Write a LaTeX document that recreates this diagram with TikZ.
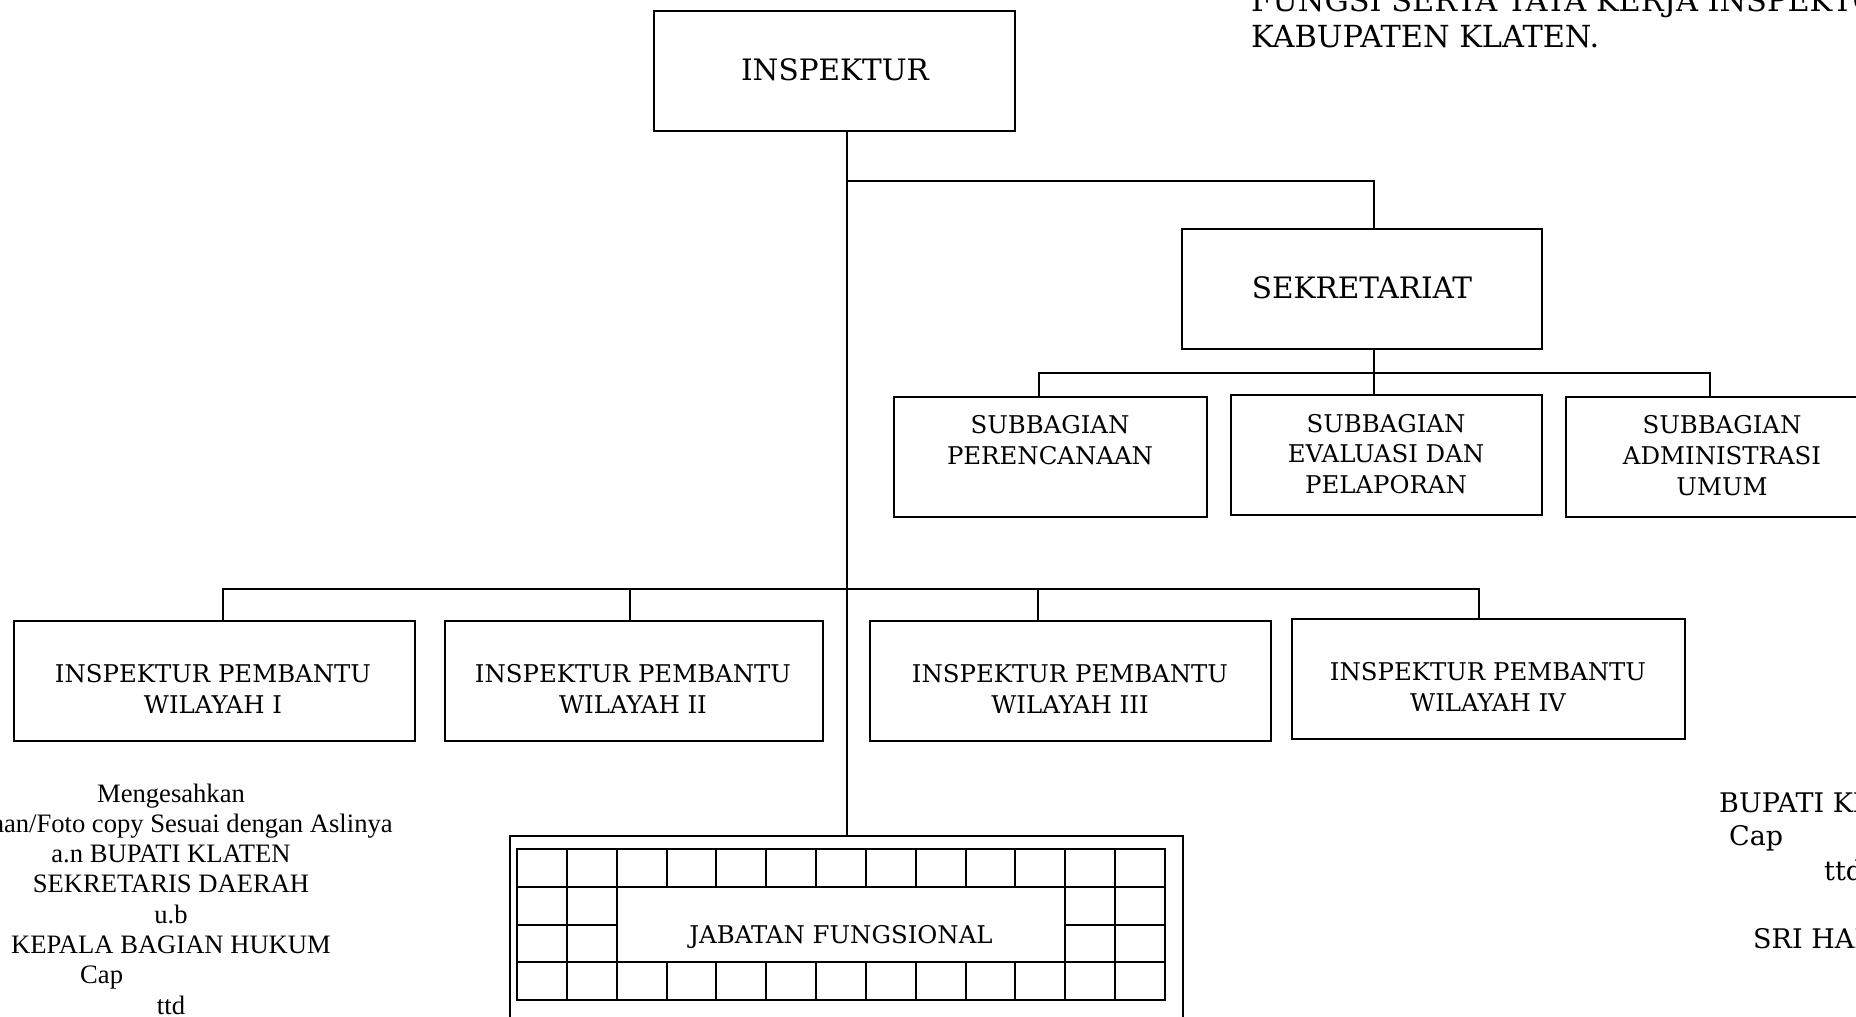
\documentclass[tikz,border=0pt]{standalone}
\usepackage{fontspec}
\setmainfont{DejaVu Serif}
\newfontfamily\timesfont{Liberation Serif}
\begin{document}
\begin{tikzpicture}[x=1pt,y=-1pt,
  box/.style={draw, line width=2pt, inner sep=0pt, minimum height=120pt},
  link/.style={line width=2pt},
  grid/.style={line width=2pt},
  big/.style={font=\fontsize{29.5}{35}\selectfont, inner sep=0pt, anchor=base},
  head/.style={font=\fontsize{30.4}{35}\selectfont, inner sep=0pt, anchor=base west},
  mid/.style={font=\fontsize{24.4}{31}\selectfont, inner sep=0pt, anchor=base},
  sig/.style={font=\timesfont\fontsize{26.6}{30.5}\selectfont, inner sep=0pt, anchor=base},
  sigr/.style={font=\fontsize{27}{31}\selectfont, inner sep=0pt, anchor=base west}]
\useasboundingbox (0,0) rectangle (1856,1017);
\fill[white] (0,0) rectangle (1856,1017);
\clip (0,0) rectangle (1856,1017);

% boxes
\node[box, minimum width=361pt] (insp) at (834.5,71) {};
\node[box, minimum width=360pt] (sekr) at (1362,289) {};
\node[box, minimum width=313pt] (sbP) at (1050.5,457) {};
\node[box, minimum width=311pt] (sbE) at (1386.5,455) {};
\node[box, minimum width=312pt] (sbA) at (1722,457) {};
\node[box, minimum width=401pt] (ip1) at (214.5,681) {};
\node[box, minimum width=378pt] (ip2) at (634,681) {};
\node[box, minimum width=401pt] (ip3) at (1070.5,681) {};
\node[box, minimum width=393pt] (ip4) at (1488.5,679) {};
\node[draw, line width=1.6pt, inner sep=0pt, minimum width=673pt, minimum height=194pt] (jab) at (846.5,933) {};

% texts
\node[big] (tinsp) at (835,80) {INSPEKTUR};
\node[big] (tsekr) at (1362,298) {SEKRETARIAT};
\node[mid] (tP1) at (1050,433) {SUBBAGIAN};
\node[mid] (tP2) at (1050,464) {PERENCANAAN};
\node[mid] (tE1) at (1386,432) {SUBBAGIAN};
\node[mid] (tE2) at (1386,462) {EVALUASI DAN};
\node[mid] (tE3) at (1386,493) {PELAPORAN};
\node[mid] (tA1) at (1722,433) {SUBBAGIAN};
\node[mid] (tA2) at (1722,464) {ADMINISTRASI};
\node[mid] (tA3) at (1722,495) {UMUM};
\node[mid] (t11) at (213,682) {INSPEKTUR PEMBANTU};
\node[mid] (t12) at (213,713) {WILAYAH I};
\node[mid] (t21) at (633,682) {INSPEKTUR PEMBANTU};
\node[mid] (t22) at (633,713) {WILAYAH II};
\node[mid] (t31) at (1070,682) {INSPEKTUR PEMBANTU};
\node[mid] (t32) at (1070,713) {WILAYAH III};
\node[mid] (t41) at (1488,680) {INSPEKTUR PEMBANTU};
\node[mid] (t42) at (1488,711) {WILAYAH IV};

% connectors
\coordinate (b1) at (846.5,181);
\coordinate (b2) at (1374,373);
\coordinate (b3) at (846.5,589);
\draw[link] (insp.south -| jab.north) -- (jab.north);
\draw[link] (b1) -| ([xshift=12pt]sekr.north);
\draw[link] ([xshift=12pt]sekr.south) -- ([xshift=-12.5pt]sbE.north);
\draw[link] ([xshift=-11.5pt]sbP.north) |- (b2) -| ([xshift=-12pt]sbA.north);
\draw[link] ([xshift=8.5pt]ip1.north) |- (b3) -| ([xshift=-9.5pt]ip4.north);
\draw[link] ([xshift=-4pt]ip2.north) |- (b3);
\draw[link] ([xshift=-32.5pt]ip3.north) |- (b3);

% grid of jabatan fungsional
\def\gw{49.846}
\def\ya{849}\def\yb{886.75}\def\yc{924.5}\def\yd{962.25}\def\ye{1000}
\draw[grid] (517,\ya) rectangle (1165,\ye);
\draw[grid] (517,\yb) -- (1165,\yb);
\draw[grid] (517,\yd) -- (1165,\yd);
\draw[grid] (517,\yc) -- ({517+2*\gw},\yc);
\draw[grid] ({517+11*\gw},\yc) -- (1165,\yc);
\foreach \k in {1,2,11,12} {\draw[grid] ({517+\k*\gw},\ya) -- ({517+\k*\gw},\ye);}
\foreach \k in {3,...,10} {
  \draw[grid] ({517+\k*\gw},\ya) -- ({517+\k*\gw},\yb);
  \draw[grid] ({517+\k*\gw},\yd) -- ({517+\k*\gw},\ye);}
\node[mid] (tjab) at (841,943) {JABATAN FUNGSIONAL};

% top right heading
\node[head] (h1) at (1251,12) {FUNGSI SERTA TATA KERJA INSPEKTORAT};
\node[head] (h2) at (1251,47) {KABUPATEN KLATEN.};

% left signature block
\node[sig] (s1) at (171,802) {Mengesahkan};
\node[sig] (s2) at (171,832) {Salinan/Foto copy Sesuai dengan Aslinya};
\node[sig] (s3) at (171,862) {a.n BUPATI KLATEN};
\node[sig] (s4) at (171,892) {SEKRETARIS DAERAH};
\node[sig] (s5) at (171,923) {u.b};
\node[sig] (s6) at (171,953) {KEPALA BAGIAN HUKUM};
\node[sig, anchor=base west] (s7) at (80,983) {Cap};
\node[sig] (s8) at (171,1014) {ttd};

% right signature block
\node[sigr] (r1) at (1719,812) {BUPATI KLATEN};
\node[sigr] (r2) at (1729,845) {Cap};
\node[sigr] (r3) at (1824,880) {ttd};
\node[sigr] (r4) at (1753,948) {SRI HARTINI};
\end{tikzpicture}
\end{document}
